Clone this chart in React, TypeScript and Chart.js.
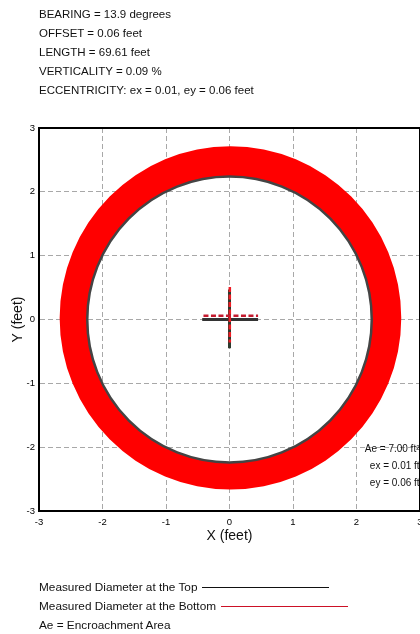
import React, { useEffect, useRef } from "react";
import { Chart, registerables } from "chart.js";

Chart.register(...registerables);

// ---------- data ----------
const headerLines = [
  "BEARING = 13.9 degrees",
  "OFFSET = 0.06 feet",
  "LENGTH = 69.61 feet",
  "VERTICALITY = 0.09 %",
  "ECCENTRICITY: ex = 0.01, ey = 0.06 feet",
];

const xTickValues = [-3, -2, -1, 0, 1, 2, 3];
const yTickValues = [-3, -2, -1, 0, 1, 2, 3];

// encroachment ring: outer boundary [cx, cy, r] and inner boundary [cx, cy, r] (feet)
const ringOuter = [0.015, 0.025, 2.69];
const ringInner = [0, 0, 2.24];
// measured diameter at the top (dark circle) [cx, cy, r]
const topCircle = [0, 0, 2.24];

// centre crosses (feet)
const topCrossHX = [-0.43, 0.45];
const topCrossHY = [0, 0];
const topCrossVX = [0, 0];
const topCrossVY = [0.47, -0.45];
const bottomCrossHX = [-0.41, 0.45];
const bottomCrossHY = [0.06, 0.06];
const bottomCrossVX = [0.005, 0.005];
const bottomCrossVY = [0.51, -0.36];

const annotationLines = ["Ae = 7.00 ft\u00B2", "ex = 0.01 ft", "ey = 0.06 ft"];
const annotationX = [2.13, 2.21, 2.21];
const annotationY = [-2.03, -2.3, -2.56];

const legendLabels = [
  "Measured Diameter at the Top",
  "Measured Diameter at the Bottom",
  "Ae = Encroachment Area",
];
const legendColors = ["#111111", "#cc1126", ""];

// ---------- helpers ----------
const FONT = "'Liberation Sans', Arial, sans-serif";

function pts(xs: number[], ys: number[]) {
  return xs.map((x, i) => ({ x, y: ys[i] }));
}

const ringPlugin = {
  id: "ringPlugin",
  beforeDatasetsDraw(chart: any) {
    const { ctx, scales } = chart;
    const xs = scales.x;
    const ys = scales.y;
    const ppuX = Math.abs(xs.getPixelForValue(1) - xs.getPixelForValue(0));
    const ppuY = Math.abs(ys.getPixelForValue(1) - ys.getPixelForValue(0));
    ctx.save();
    // red encroachment ring
    ctx.beginPath();
    ctx.ellipse(
      xs.getPixelForValue(ringOuter[0]),
      ys.getPixelForValue(ringOuter[1]),
      ringOuter[2] * ppuX,
      ringOuter[2] * ppuY,
      0,
      0,
      Math.PI * 2
    );
    ctx.moveTo(
      xs.getPixelForValue(ringInner[0]) + ringInner[2] * ppuX,
      ys.getPixelForValue(ringInner[1])
    );
    ctx.ellipse(
      xs.getPixelForValue(ringInner[0]),
      ys.getPixelForValue(ringInner[1]),
      ringInner[2] * ppuX,
      ringInner[2] * ppuY,
      0,
      0,
      Math.PI * 2,
      true
    );
    ctx.fillStyle = "#ff0000";
    ctx.fill("evenodd");
    // dark measured circle
    ctx.beginPath();
    ctx.ellipse(
      xs.getPixelForValue(topCircle[0]),
      ys.getPixelForValue(topCircle[1]),
      topCircle[2] * ppuX,
      topCircle[2] * ppuY,
      0,
      0,
      Math.PI * 2
    );
    ctx.strokeStyle = "#444444";
    ctx.lineWidth = 2.5;
    ctx.stroke();
    ctx.restore();
  },
  afterDatasetsDraw(chart: any) {
    const { ctx, scales } = chart;
    ctx.save();
    ctx.font = `10px ${FONT}`;
    ctx.fillStyle = "#111111";
    ctx.textAlign = "left";
    ctx.textBaseline = "middle";
    annotationLines.forEach((t, i) => {
      ctx.fillText(
        t,
        scales.x.getPixelForValue(annotationX[i]),
        scales.y.getPixelForValue(annotationY[i])
      );
    });
    ctx.restore();
  },
  afterDraw(chart: any) {
    const { ctx, chartArea } = chart;
    ctx.save();
    ctx.strokeStyle = "#000000";
    ctx.lineWidth = 2;
    ctx.beginPath();
    ctx.moveTo(chartArea.left, chartArea.top);
    ctx.lineTo(chartArea.right, chartArea.top);
    ctx.lineTo(chartArea.right, chartArea.bottom);
    ctx.stroke();
    ctx.restore();
  },
};

export default function App() {
  const canvasRef = useRef<HTMLCanvasElement | null>(null);

  useEffect(() => {
    const canvas = canvasRef.current;
    if (!canvas) return;
    const line = (data: any, color: string, width: number, dash: number[] = []) => ({
      data,
      showLine: true,
      borderColor: color,
      backgroundColor: color,
      borderWidth: width,
      borderDash: dash,
      pointRadius: 0,
      fill: false,
    });
    // Chart.js paints dataset 0 last (on top), so the red dashed
    // "bottom" cross comes first.
    const chart = new Chart(canvas, {
      type: "scatter",
      data: {
        datasets: [
          line(pts(bottomCrossVX, bottomCrossVY), "#ee1c24", 2.5, [5, 2.5]),
          line(pts(bottomCrossHX, bottomCrossHY), "#c41a2e", 2.5, [5, 2.5]),
          line(pts(topCrossVX, topCrossVY), "#2e3a2e", 3),
          line(pts(topCrossHX, topCrossHY), "#333333", 3),
        ] as any,
      },
      options: {
        animation: false,
        responsive: false,
        devicePixelRatio: 1,
        layout: { padding: { left: 0, top: 128, right: 20, bottom: 81 } },
        plugins: {
          legend: { display: false },
          tooltip: { enabled: false },
        },
        scales: {
          x: {
            type: "linear",
            min: -3,
            max: 3,
            afterBuildTicks: (scale: any) => {
              scale.ticks = xTickValues.map((v) => ({ value: v }));
            },
            afterFit: (scale: any) => {
              scale.height = 42;
            },
            ticks: {
              color: "#000000",
              font: { family: FONT, size: 9.5 },
              padding: 6,
              maxRotation: 0,
            },
            grid: { color: "#a8a8a8", lineWidth: 1, drawTicks: false },
            border: { color: "#000000", width: 2, dash: [5, 3] },
            title: {
              display: true,
              text: "X (feet)",
              color: "#111111",
              font: { family: FONT, size: 14 },
              padding: { top: 0, bottom: 8 },
            },
          },
          y: {
            type: "linear",
            min: -3,
            max: 3,
            afterBuildTicks: (scale: any) => {
              scale.ticks = yTickValues.map((v) => ({ value: v }));
            },
            afterFit: (scale: any) => {
              scale.width = 39;
            },
            ticks: {
              color: "#000000",
              font: { family: FONT, size: 9.5 },
              padding: 4,
            },
            grid: { color: "#a8a8a8", lineWidth: 1, drawTicks: false },
            border: { color: "#000000", width: 2, dash: [5, 3] },
            title: {
              display: true,
              text: "Y (feet)",
              color: "#111111",
              font: { family: FONT, size: 14 },
              padding: { top: 10, bottom: 0 },
            },
          },
        },
      } as any,
      plugins: [ringPlugin],
    });
    return () => chart.destroy();
  }, []);

  return (
    <div
      style={{
        position: "fixed",
        left: 0,
        top: 0,
        width: 420,
        height: 634,
        overflow: "hidden",
        background: "#ffffff",
        fontFamily: FONT,
        color: "#111111",
      }}
    >
      <canvas
        ref={canvasRef}
        width={440}
        height={634}
        style={{ position: "absolute", left: 0, top: 0, width: 440, height: 634 }}
      />
      {headerLines.map((t, i) => (
        <div
          key={t}
          style={{
            position: "absolute",
            left: 39,
            top: 13.5 + 19.2 * i - 7,
            height: 14,
            lineHeight: "14px",
            fontSize: 11.5,
            whiteSpace: "nowrap",
          }}
        >
          {t}
        </div>
      ))}
      {legendLabels.map((t, i) => (
        <div
          key={t}
          style={{
            position: "absolute",
            left: 39,
            top: 587 + 19 * i - 7,
            height: 14,
            lineHeight: "14px",
            fontSize: 11.8,
            whiteSpace: "nowrap",
            display: "flex",
            alignItems: "center",
          }}
        >
          <span>{t}</span>
          {legendColors[i] ? (
            <span
              style={{
                display: "inline-block",
                marginLeft: 5,
                width: 127,
                height: 1,
                background: legendColors[i],
              }}
            />
          ) : null}
        </div>
      ))}
    </div>
  );
}
